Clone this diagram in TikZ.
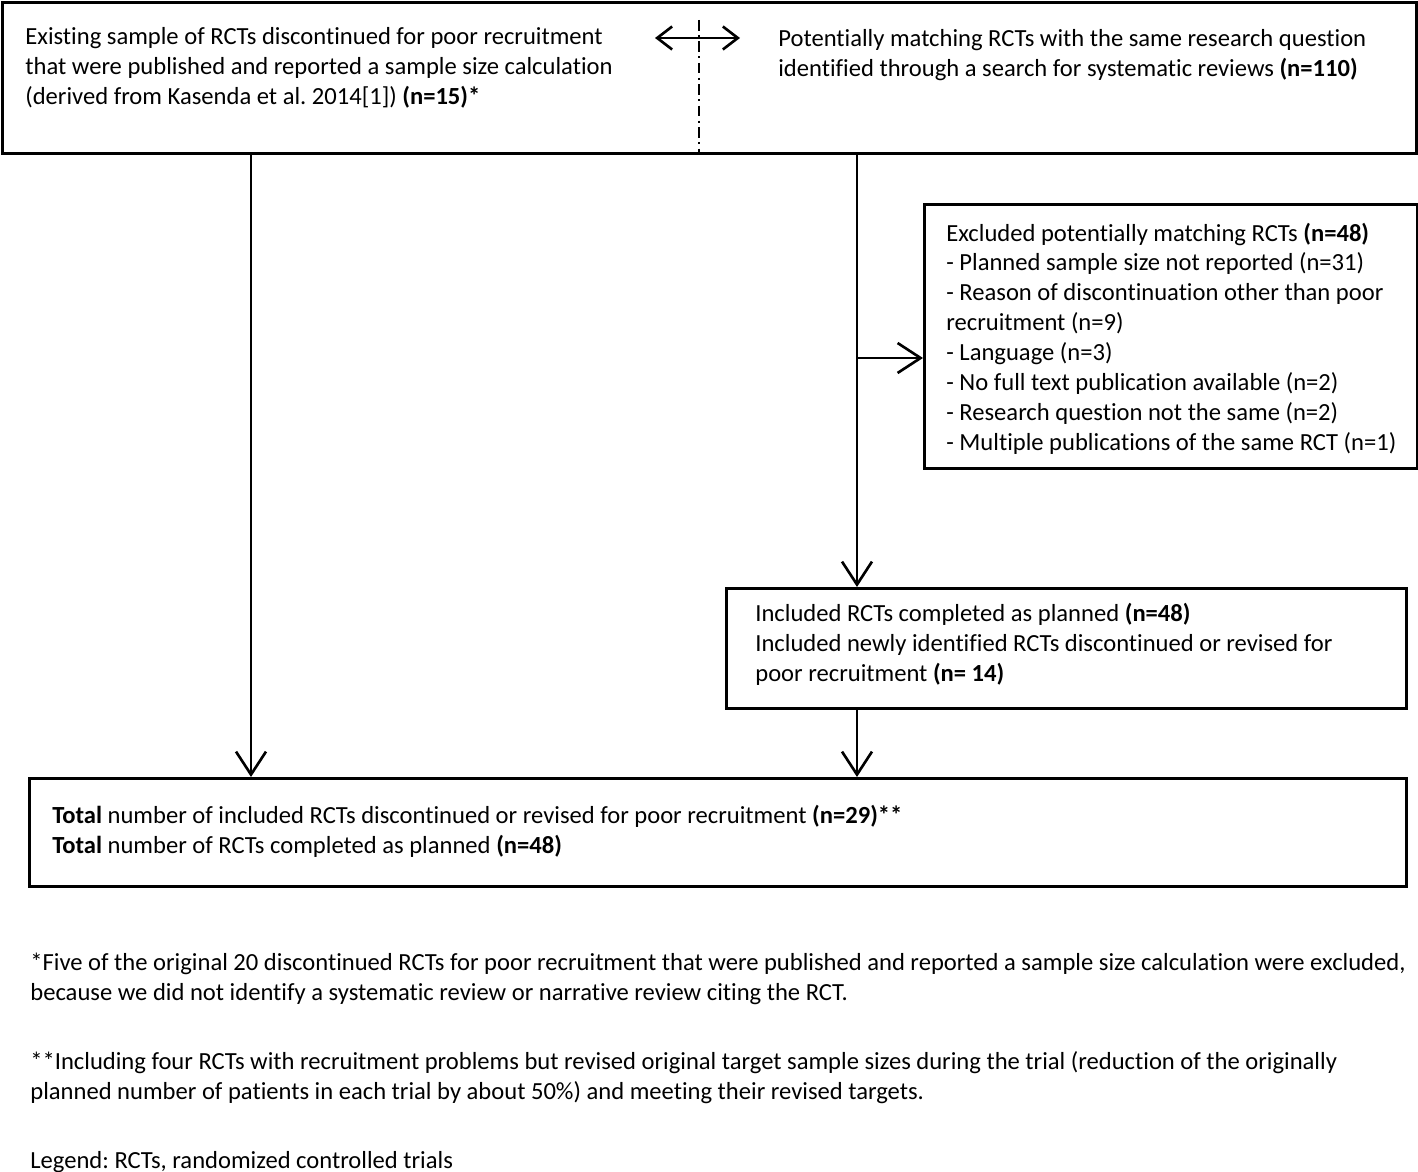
\documentclass[tikz,border=0pt]{standalone}
\usepackage{fontspec}
\setmainfont{Carlito}[Ligatures={NoCommon}]
\usetikzlibrary{arrows.meta}

\tikzset{
  box/.style={draw, line width=1.7pt, inner sep=0pt, anchor=north west},
  txt/.style={anchor=north west, inner sep=0pt, align=left, font=\fontsize{14}{17}\selectfont},
  arr/.style={line width=1.7pt, -{Straight Barb[length=4.6mm,width=6mm,line width=1.5pt]}},
  dbl/.style={line width=1.5pt, {Straight Barb[length=3mm,width=4.6mm]}-{Straight Barb[length=3mm,width=4.6mm]}}
}

\begin{document}
\frenchspacing
\begin{tikzpicture}[x=0.02cm,y=-0.02cm]
\useasboundingbox (0,0) rectangle (1418,1172);

% boxes
\node[box, minimum width=28.28cm, minimum height=3.02cm] (src) at (1,1) {};
\node[box, minimum width=9.86cm, minimum height=5.28cm] (excl) at (923,203) {};
\node[box, minimum width=13.6cm, minimum height=2.4cm] (incl) at (725,587) {};
\node[box, minimum width=27.54cm, minimum height=2.16cm] (total) at (28,777) {};

% texts
\node[txt] (srcl) at (25,27.5) {Existing sample of RCTs discontinued for poor recruitment\\that were published and reported a sample size calculation\\(derived from Kasenda et al. 2014[1]) \textbf{(n=15)*}};
\node[txt] (srcr) at (778,29.5) {Potentially matching RCTs with the same research question\\identified through a search for systematic reviews \textbf{(n=110)}};
\node[txt] (exclt) at (946,222.5) {Excluded potentially matching RCTs \textbf{(n=48)}\\- Planned sample size not reported (n=31)\\- Reason of discontinuation other than poor\\recruitment (n=9)\\- Language (n=3)\\- No full text publication available (n=2)\\- Research question not the same (n=2)\\- Multiple publications of the same RCT (n=1)};
\node[txt] (inclt) at (755,603) {Included RCTs completed as planned \textbf{(n=48)}\\Included newly identified RCTs discontinued or revised for\\poor recruitment \textbf{(n= 14)}};
\node[txt] (totalt) at (52,805) {\textbf{Total} number of included RCTs discontinued or revised for poor recruitment \textbf{(n=29)**}\\\textbf{Total} number of RCTs completed as planned \textbf{(n=48)}};

% footnotes
\node[txt] (fn1) at (30,953) {*Five of the original 20 discontinued RCTs for poor recruitment that were published and reported a sample size calculation were excluded,\\because we did not identify a systematic review or narrative review citing the RCT.};
\node[txt] (fn2) at (30,1051) {**Including four RCTs with recruitment problems but revised original target sample sizes during the trial (reduction of the originally\\planned number of patients in each trial by about 50\%) and meeting their revised targets.};
\node[txt] (leg) at (30,1151) {Legend: RCTs, randomized controlled trials};

% divider and link
\coordinate (dv) at (699,20);
\draw[line width=0.9pt, dash pattern=on 6pt off 2.5pt on 1.2pt off 2.5pt] (dv) -- (dv |- src.south);
\coordinate (la) at (655,38);
\coordinate (lb) at (740,38);
\draw[dbl] (la) -- (lb);

% connectors
\coordinate (lx) at (251,0);
\coordinate (mx) at (857,0);
\coordinate (br) at (857,358);
\draw[arr] (src.south -| lx) -- (total.north -| lx);
\draw[arr] (src.south -| mx) -- (incl.north -| mx);
\draw[arr] (br) -- (br -| excl.west);
\draw[arr] (incl.south -| mx) -- (total.north -| mx);
\end{tikzpicture}
\end{document}
